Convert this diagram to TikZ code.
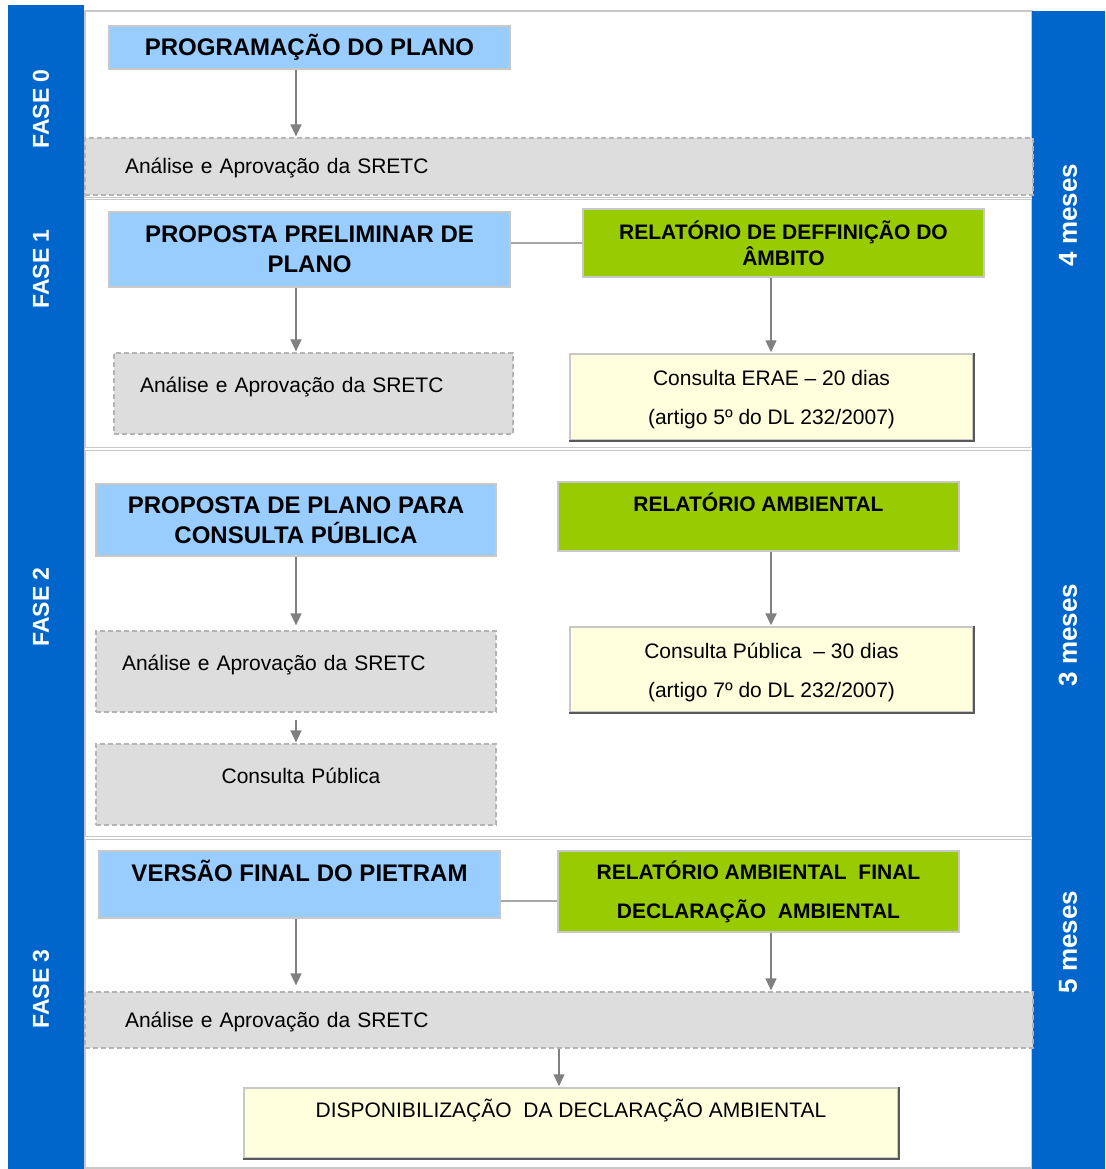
\documentclass[tikz,border=0pt]{standalone}
\usepackage{fontspec}
\setmainfont{Liberation Sans}
\usetikzlibrary{arrows.meta}
\definecolor{barblue}{RGB}{0,102,204}
\definecolor{planblue}{RGB}{153,204,255}
\definecolor{ragreen}{RGB}{153,204,0}
\definecolor{srgray}{RGB}{221,221,221}
\definecolor{consyellow}{RGB}{255,255,221}
\definecolor{linegray}{RGB}{128,128,128}
\definecolor{boxgray}{RGB}{200,200,200}
\definecolor{dashgray}{RGB}{180,180,180}
\newcommand\hdfont{\fontsize{24}{30}\selectfont\bfseries}
\newcommand\rafont{\fontsize{21}{26}\selectfont\bfseries}
\newcommand\txfont{\fontsize{21}{39}\selectfont}
\newcommand\lowstrut{\rule{0pt}{21pt}}
\tikzset{
  blk/.style={inner sep=0pt, align=center},
  plan/.style={blk, draw=boxgray, line width=1.5pt, fill=planblue, font=\hdfont, minimum width=401pt},
  report/.style={blk, draw=boxgray, line width=1.5pt, fill=ragreen, font=\rafont, minimum width=401pt},
  review/.style={blk, draw=dashgray, line width=1.2pt, dash pattern=on 5pt off 3pt, fill=srgray, font=\txfont, align=left},
  consult/.style={blk, draw=boxgray, line width=1.5pt, fill=consyellow, font=\txfont, minimum width=403pt},
  shade edge/.style={draw=gray!70!black, line width=1.8pt},
  phase/.style={rotate=90, text=white, font=\fontsize{23}{28}\selectfont\bfseries},
  months/.style={rotate=90, text=white, font=\fontsize{26}{30}\selectfont\bfseries},
  flow/.style={draw=linegray, line width=1.3pt, -{Triangle[width=11pt,length=12pt]}, shorten >=1pt},
  tie/.style={draw=linegray!70, line width=1.3pt}}

\begin{document}
\begin{tikzpicture}[x=1pt, y=-1pt]
  \useasboundingbox (0,0) rectangle (1105,1169);
  \draw[boxgray, line width=1.2pt, fill=white] (85,11) rectangle (1032,1168);
  \foreach \y in {198.5,449,838}
    \draw[boxgray, line width=1pt, double, double distance=1.5pt] (85,\y) -- (1032,\y);
  \fill[barblue] (8,5) rectangle (84,1169);
  \fill[barblue] (1032,11) rectangle (1105,1169);

  \node[phase] (f0) at (41,109) {FASE 0};
  \node[phase] (f1) at (41,269) {FASE 1};
  \node[phase] (f2) at (41,607) {FASE 2};
  \node[phase] (f3) at (41,989) {FASE 3};
  \node[months] (m1) at (1068,215) {4 meses};
  \node[months] (m2) at (1068,635) {3 meses};
  \node[months] (m3) at (1068,942) {5 meses};

  \coordinate (laneL) at (296,0);
  \coordinate (laneM) at (559,0);
  \coordinate (laneR) at (771,0);

  \node[plan, minimum height=43pt, text height=17pt, text depth=0pt] (prog) at (309.5,47.5) {PROGRAMAÇÃO DO PLANO};
  \node[review, text width=868pt, inner xsep=40pt, minimum height=57pt, text height=15pt, text depth=0pt] (ana_0) at (559,166.5) {Análise e Aprovação da SRETC};

  \node[plan, minimum height=75pt] (prelim) at (309.5,249.5) {PROPOSTA PRELIMINAR DE\\PLANO};
  \node[report, minimum height=68pt] (ambito) at (783.5,243) {RELATÓRIO DE DEFFINIÇÃO DO\\ÂMBITO};
  \node[review, text width=347pt, inner xsep=26pt, minimum height=81pt, text height=15pt, text depth=17pt] (ana_1) at (313.5,393.5) {Análise e Aprovação da SRETC};
  \node[consult, minimum height=86pt] (erae) at (771.5,397) {\lowstrut Consulta ERAE – 20 dias\\(artigo 5º do DL 232/2007)};

  \node[plan, minimum width=400pt, minimum height=72pt] (proposta) at (296,520) {PROPOSTA DE PLANO PARA\\CONSULTA PÚBLICA};
  \node[report, minimum height=69pt, text height=15pt, text depth=25pt] (ra) at (758.5,516.5) {RELATÓRIO AMBIENTAL};
  \node[review, text width=348pt, inner xsep=26pt, minimum height=81pt, text height=15pt, text depth=17pt] (ana_2) at (296,671.5) {Análise e Aprovação da SRETC};
  \node[review, text width=390pt, inner xsep=5pt, align=center, minimum height=81pt, text height=15pt, text depth=17pt] (cpub) at (296,784.5) {\hspace*{10pt}Consulta Pública};
  \node[consult, minimum height=85pt] (cp30) at (771.5,669.5) {\lowstrut Consulta Pública \ – 30 dias\\(artigo 7º do DL 232/2007)};

  \node[plan, minimum height=67pt, text height=17pt, text depth=23pt] (final) at (299.5,884.5) {VERSÃO FINAL DO PIETRAM};
  \node[report, minimum height=81pt, font=\fontsize{21}{39}\selectfont\bfseries] (raf) at (758.5,891.5) {RELATÓRIO AMBIENTAL \ FINAL\\DECLARAÇÃO \ AMBIENTAL};
  \node[review, text width=868pt, inner xsep=40pt, minimum height=56pt, text height=15pt, text depth=0pt] (ana_3) at (559,1020) {Análise e Aprovação da SRETC};
  \node[consult, minimum width=654pt, minimum height=70pt, text height=15pt, text depth=26pt] (decl) at (571,1123) {DISPONIBILIZAÇÃO \ DA DECLARAÇÃO AMBIENTAL};

  \foreach \n in {erae,cp30,decl}
    \draw[shade edge] (\n.north east) -- (\n.south east) -- (\n.south west);

  \draw[tie] (ambito.west) -- (ambito.west -| prelim.east);
  \draw[tie] ([yshift=-9.5pt]raf.west) -- ([yshift=-9.5pt]raf.west -| final.east);

  \draw[flow] (prog.south -| laneL) -- (ana_0.north -| laneL);
  \draw[flow] (prelim.south -| laneL) -- (ana_1.north -| laneL);
  \draw[flow] (ambito.south -| laneR) -- (erae.north -| laneR);
  \draw[flow, shorten >=5pt] (proposta.south -| laneL) -- (ana_2.north -| laneL);
  \draw[flow, line width=2.4pt] (ra.south -| laneR) -- (cp30.north -| laneR);
  \draw[flow] ([yshift=-7pt]ana_2.south -| laneL) -- (cpub.north -| laneL);
  \draw[flow, shorten >=6pt] (final.south -| laneL) -- (ana_3.north -| laneL);
  \draw[flow] (raf.south -| laneR) -- (ana_3.north -| laneR);
  \draw[flow] (ana_3.south -| laneM) -- (decl.north -| laneM);
\end{tikzpicture}
\end{document}
